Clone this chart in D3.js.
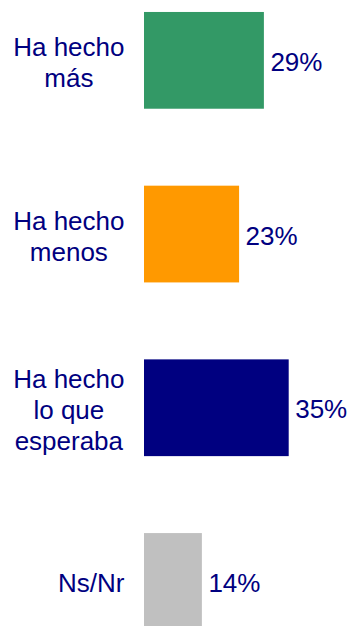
<!DOCTYPE html>
<html>
<head>
<meta charset="utf-8">
<script src="https://cdn.jsdelivr.net/npm/d3@7"></script>
<style>
  html, body { margin: 0; padding: 0; background: #fff; }
  svg { display: block; }
</style>
</head>
<body>
<script>
const categories = [["Ha hecho", "más"], ["Ha hecho", "menos"], ["Ha hecho", "lo que", "esperaba"], ["Ns/Nr"]];
const values = [29, 23, 35, 14];
const valueLabels = ["29%", "23%", "35%", "14%"];
const colors = ["#339966", "#FF9900", "#000080", "#C0C0C0"];

const W = 353, H = 626;
const svg = d3.select("body").append("svg").attr("width", W).attr("height", H);

const ids = categories.map((c, i) => i);
const y = d3.scaleBand().domain(ids).range([-26.5, 668.3]).paddingInner(0.443).paddingOuter(0.2215);
const x = d3.scaleLinear().domain([0, 35]).range([144, 288.7]);

const fontSize = 26, lineH = 31, textColor = "#000080";
const font = "'Liberation Sans', Arial, sans-serif";

svg.selectAll("rect.bar").data(values).join("rect")
  .attr("class", "bar")
  .attr("x", x(0))
  .attr("y", (d, i) => y(i))
  .attr("width", d => x(d) - x(0))
  .attr("height", y.bandwidth())
  .attr("fill", (d, i) => colors[i]);

svg.selectAll("text.val").data(values).join("text")
  .attr("class", "val")
  .attr("x", d => x(d) + 6.5)
  .attr("y", (d, i) => y(i) + y.bandwidth() / 2 + 10.5)
  .attr("font-family", font)
  .attr("font-size", fontSize)
  .attr("fill", textColor)
  .text((d, i) => valueLabels[i]);

// category labels: block right-aligned at rightEdge, lines centered within block
const rightEdge = 124.5;
categories.forEach((lines, i) => {
  const g = svg.append("g");
  const t = g.append("text")
    .attr("font-family", font)
    .attr("font-size", fontSize)
    .attr("fill", textColor)
    .attr("text-anchor", "middle");
  const n = lines.length;
  const cy = y(i) + y.bandwidth() / 2 + 2;
  const tspans = lines.map((l, k) => t.append("tspan").text(l)
      .attr("y", cy - (n - 1) * lineH / 2 + k * lineH + 9));
  const maxW = d3.max(tspans, s => s.node().getComputedTextLength());
  tspans.forEach(s => s.attr("x", rightEdge - maxW / 2));
});
</script>
</body>
</html>
